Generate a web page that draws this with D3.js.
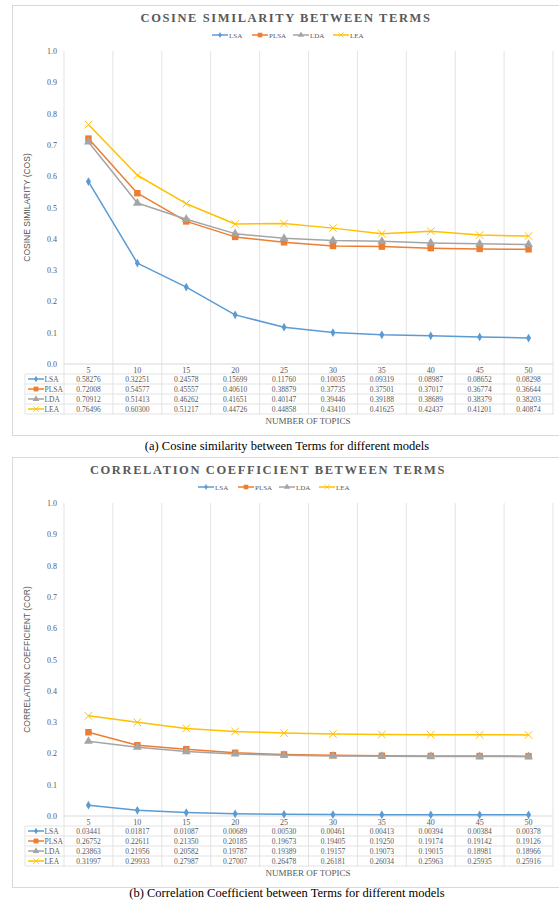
<!DOCTYPE html>
<html>
<head>
<meta charset="utf-8">
<script src="https://cdn.jsdelivr.net/npm/d3@7"></script>
<style>
  body { margin: 0; background: #fff; }
  svg text { font-family: "Liberation Serif", "DejaVu Serif", serif; }
</style>
</head>
<body>
<div id="chart"></div>
<script>
const topics = [5, 10, 15, 20, 25, 30, 35, 40, 45, 50];
const models = ["LSA", "PLSA", "LDA", "LEA"];
const yTicks = [0, 0.1, 0.2, 0.3, 0.4, 0.5, 0.6, 0.7, 0.8, 0.9, 1.0];

const cosLSA  = [0.58276, 0.32251, 0.24578, 0.15699, 0.11760, 0.10035, 0.09319, 0.08987, 0.08652, 0.08298];
const cosPLSA = [0.72008, 0.54577, 0.45557, 0.40610, 0.38879, 0.37735, 0.37501, 0.37017, 0.36774, 0.36644];
const cosLDA  = [0.70912, 0.51413, 0.46262, 0.41651, 0.40147, 0.39446, 0.39188, 0.38689, 0.38379, 0.38203];
const cosLEA  = [0.76496, 0.60300, 0.51217, 0.44726, 0.44858, 0.43410, 0.41625, 0.42437, 0.41201, 0.40874];

const corLSA  = [0.03441, 0.01817, 0.01087, 0.00689, 0.00530, 0.00461, 0.00413, 0.00394, 0.00384, 0.00378];
const corPLSA = [0.26752, 0.22611, 0.21350, 0.20185, 0.19673, 0.19405, 0.19250, 0.19174, 0.19142, 0.19126];
const corLDA  = [0.23863, 0.21956, 0.20582, 0.19787, 0.19389, 0.19157, 0.19073, 0.19015, 0.18981, 0.18966];
const corLEA  = [0.31997, 0.29933, 0.27987, 0.27007, 0.26478, 0.26181, 0.26034, 0.25963, 0.25935, 0.25916];

const colors = { LSA: "#5B9BD5", PLSA: "#ED7D31", LDA: "#A5A5A5", LEA: "#FFC000" };
const symbols = { LSA: d3.symbolDiamond, PLSA: d3.symbolSquare, LDA: d3.symbolTriangle, LEA: d3.symbolX };
const symSize = { LSA: 22, PLSA: 42, LDA: 34, LEA: 38 };

const W = 559, H = 903;
const svg = d3.select("#chart").append("svg").attr("width", W).attr("height", H);

const charts = [
  { top: 0, title: "COSINE SIMILARITY BETWEEN TERMS", titleX: 286, legX: 212, ylabel: "COSINE SIMILARITY (COS)",
    series: [cosLSA, cosPLSA, cosLDA, cosLEA], captionY: 450,
    caption: "(a) Cosine similarity between Terms for different models" },
  { top: 452, title: "CORRELATION COEFFICIENT BETWEEN TERMS", titleX: 268, legX: 198, ylabel: "CORRELATION COEFFICIENT (COR)",
    series: [corLSA, corPLSA, corLDA, corLEA], captionY: 445,
    caption: "(b) Correlation Coefficient between Terms for different models" }
];

function marker(g, name, x, y) {
  const p = g.append("path")
    .attr("transform", `translate(${x},${y})`)
    .attr("d", d3.symbol().type(symbols[name]).size(symSize[name])());
  if (name === "LEA") p.attr("fill", "none").attr("stroke", colors[name]).attr("stroke-width", 1);
  else p.attr("fill", colors[name]);
  return p;
}

charts.forEach(cfg => {
  const g = svg.append("g").attr("transform", `translate(0,${cfg.top})`);
  const left = 64, right = 553, yTop = 51, yBot = 364;
  const rowH = 10;

  // frame
  g.append("rect").attr("x", 12.5).attr("y", 5.5).attr("width", 560).attr("height", 430)
    .attr("fill", "#fff").attr("stroke", "#d9d9d9");

  const x = d3.scaleBand().domain(topics).range([left, right]);
  const y = d3.scaleLinear().domain([0, 1]).range([yBot, yTop]);

  // vertical gridlines (chart + table)
  const bounds = topics.map(t => x(t)).concat([right]);
  g.selectAll("line.vgrid").data(bounds).join("line")
    .attr("class", "vgrid")
    .attr("x1", d => d).attr("x2", d => d)
    .attr("y1", yTop).attr("y2", yBot + rowH + rowH * 4 + 1)
    .attr("stroke", "#e3e3e3").attr("stroke-width", 1);

  // x axis line
  g.append("line").attr("x1", left).attr("x2", right).attr("y1", yBot).attr("y2", yBot)
    .attr("stroke", "#d9d9d9");

  // y axis ticks
  g.selectAll("text.ytick").data(yTicks).join("text")
    .attr("class", "ytick")
    .attr("x", 57).attr("y", d => y(d) + 3)
    .attr("text-anchor", "end").attr("font-size", 8).attr("fill", "#595959")
    .text(d => d.toFixed(1));

  // y label
  g.append("text")
    .attr("transform", `translate(30,${(yTop + yBot) / 2}) rotate(-90)`)
    .attr("text-anchor", "middle").attr("font-size", 8.5).attr("fill", "#595959")
    .style("font-family", "'Liberation Sans', Arial, sans-serif")
    .text(cfg.ylabel);

  // title
  g.append("text").attr("x", cfg.titleX).attr("y", 22)
    .attr("text-anchor", "middle").attr("font-size", 12.5).attr("font-weight", "bold")
    .attr("letter-spacing", 1.6).attr("fill", "#595959")
    .text(cfg.title);

  // legend
  const legOff = [0, 40, 81, 121];
  models.forEach((m, i) => {
    const lx = cfg.legX + legOff[i];
    const lg = g.append("g");
    lg.append("line").attr("x1", lx).attr("x2", lx + 16).attr("y1", 35).attr("y2", 35)
      .attr("stroke", colors[m]).attr("stroke-width", 1.5);
    marker(lg, m, lx + 8, 35).attr("transform", `translate(${lx + 8},35) scale(0.7)`);
    lg.append("text").attr("x", lx + 17).attr("y", 37.5).attr("font-size", 7).attr("fill", "#595959").text(m);
  });

  // lines and markers
  const line = d3.line().x((d, i) => x(topics[i]) + x.bandwidth() / 2).y(d => y(d));
  models.forEach((m, k) => {
    const vals = cfg.series[k];
    g.append("path").datum(vals).attr("d", line)
      .attr("fill", "none").attr("stroke", colors[m]).attr("stroke-width", 1.5)
      .attr("stroke-linejoin", "round");
    vals.forEach((v, i) => marker(g, m, x(topics[i]) + x.bandwidth() / 2, y(v)));
  });

  // data table
  const tTop = yBot + rowH;
  g.selectAll("text.cat").data(topics).join("text")
    .attr("class", "cat")
    .attr("x", d => x(d) + x.bandwidth() / 2).attr("y", yBot + 8.5)
    .attr("text-anchor", "middle").attr("font-size", 8).attr("fill", "#595959")
    .text(d => d);

  for (let r = 0; r <= 4; r++) {
    g.append("line").attr("x1", 25).attr("x2", right).attr("y1", tTop + r * rowH).attr("y2", tTop + r * rowH)
      .attr("stroke", "#e3e3e3");
  }
  g.append("line").attr("x1", 25).attr("x2", 25).attr("y1", tTop).attr("y2", tTop + 4 * rowH)
    .attr("stroke", "#e3e3e3");

  models.forEach((m, k) => {
    const ry = tTop + k * rowH + rowH / 2;
    g.append("line").attr("x1", 28).attr("x2", 44).attr("y1", ry).attr("y2", ry)
      .attr("stroke", colors[m]).attr("stroke-width", 1.5);
    marker(g, m, 36, ry).attr("transform", `translate(36,${ry}) scale(0.75)`);
    g.append("text").attr("x", 44.5).attr("y", ry + 3).attr("font-size", 7.5).attr("fill", "#595959").text(m);
    g.selectAll(null).data(cfg.series[k]).join("text")
      .attr("x", (d, i) => x(topics[i]) + x.bandwidth() / 2).attr("y", ry + 3)
      .attr("text-anchor", "middle").attr("font-size", 7.5).attr("fill", "#595959")
      .text(d => d.toFixed(5));
  });

  g.append("text").attr("x", 308).attr("y", 424)
    .attr("text-anchor", "middle").attr("font-size", 9).attr("fill", "#595959")
    .text("NUMBER OF TOPICS");

  // caption
  g.append("text").attr("x", 287).attr("y", cfg.captionY)
    .attr("text-anchor", "middle").attr("font-size", 12.5).attr("fill", "#000")
    .text(cfg.caption);
});
</script>
</body>
</html>
